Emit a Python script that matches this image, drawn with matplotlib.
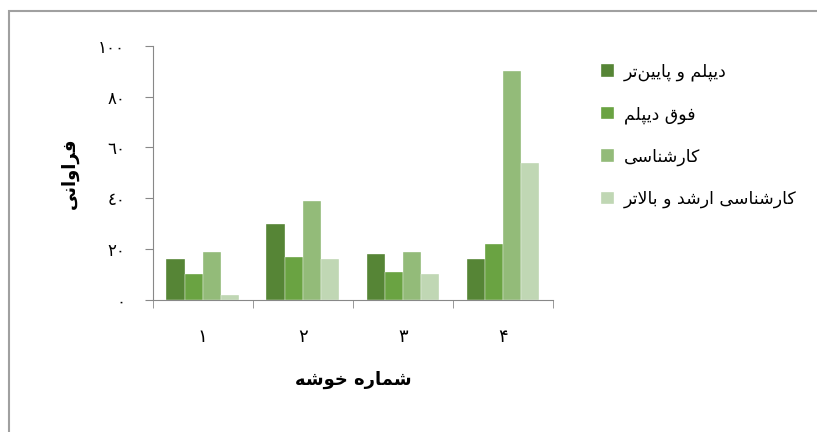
import numpy as np
import matplotlib
matplotlib.use("Agg")
import matplotlib.pyplot as plt
from matplotlib.patches import Rectangle

# data
clusters = ["۱", "۲", "۳", "۴"]
series_names = ["دیپلم و پایین‌تر", "فوق دیپلم", "کارشناسی", "کارشناسی ارشد و بالاتر"]
diploma_below = [16, 30, 18, 16]
associate = [10, 17, 11, 22]
bachelor = [19, 39, 19, 90]
master_above = [2, 16, 10, 54]
y_ticks = [0, 20, 40, 60, 80, 100]
y_tick_labels = ["٠", "٢٠", "٤٠", "٦٠", "٨٠", "١٠٠"]
x_title = "شماره خوشه"
y_title = "فراوانی"

colors = ["#568536", "#6aa342", "#93bb79", "#c0d7b4"]

# matplotlib has no arabic shaping, so map letters to presentation forms by hand
# letter: (isolated, final, initial, medial); two forms = does not join forward
FORMS = {
    "ا": "\ufe8d\ufe8e", "د": "\ufea9\ufeaa", "ر": "\ufead\ufeae", "و": "\ufeed\ufeee",
    "ب": "\ufe8f\ufe90\ufe91\ufe92", "پ": "\ufb56\ufb57\ufb58\ufb59",
    "ت": "\ufe95\ufe96\ufe97\ufe98", "خ": "\ufea5\ufea6\ufea7\ufea8",
    "س": "\ufeb1\ufeb2\ufeb3\ufeb4", "ش": "\ufeb5\ufeb6\ufeb7\ufeb8",
    "ف": "\ufed1\ufed2\ufed3\ufed4", "ق": "\ufed5\ufed6\ufed7\ufed8",
    "ک": "\ufb8e\ufb8f\ufb90\ufb91", "ل": "\ufedd\ufede\ufedf\ufee0",
    "م": "\ufee1\ufee2\ufee3\ufee4", "ن": "\ufee5\ufee6\ufee7\ufee8",
    "ه": "\ufee9\ufeea\ufeeb\ufeec", "ی": "\ufbfc\ufbfd\ufbfe\ufbff",
}


def shape(text):
    out = []
    i = 0
    prev_joins = False
    while i < len(text):
        ch = text[i]
        if ch not in FORMS:
            if ch != "\u200c":
                out.append(ch)
            prev_joins = False
            i += 1
            continue
        nxt = text[i + 1] if i + 1 < len(text) else ""
        if ch == "ل" and nxt == "ا":
            out.append("\ufefc" if prev_joins else "\ufefb")
            prev_joins = False
            i += 2
            continue
        f = FORMS[ch]
        joins_next = len(f) == 4 and nxt in FORMS
        if prev_joins and joins_next:
            out.append(f[3])
        elif prev_joins:
            out.append(f[1])
        elif joins_next:
            out.append(f[2])
        else:
            out.append(f[0])
        prev_joins = joins_next
        i += 1
    return "".join(out)[::-1]


plt.rcParams["font.family"] = ["DejaVu Sans"]

fig = plt.figure(figsize=(8.17, 4.32), dpi=100)
ax = fig.add_axes([0.187, 0.306, 0.490, 0.588])

x = np.arange(len(clusters))
w = 0.182
data = [diploma_below, associate, bachelor, master_above]
for k, (vals, c, name) in enumerate(zip(data, colors, series_names)):
    ax.bar(x + (k - 1.5) * w, vals, width=w, color=c, edgecolor="white",
           linewidth=0.25, label=shape(name))

ax.set_xlim(-0.5, 3.5)
ax.set_ylim(0, 100)
ax.set_yticks(y_ticks)
ax.set_yticklabels(y_tick_labels, fontsize=12)
ax.set_xticks(x)
ax.set_xticklabels(clusters, fontsize=13)
ax.tick_params(axis="x", length=0, pad=20)
ax.set_xticks(np.arange(-0.5, 4, 1), minor=True)
ax.tick_params(axis="x", which="minor", length=6, color="#888888", direction="out")
ax.tick_params(axis="y", length=6, color="#888888", pad=14)

for s in ["top", "right"]:
    ax.spines[s].set_visible(False)
for s in ["left", "bottom"]:
    ax.spines[s].set_color("#888888")

ax.set_xlabel(shape(x_title), fontsize=13, fontweight="bold", labelpad=18)
ax.set_ylabel(shape(y_title), fontsize=13, fontweight="bold", labelpad=14)

leg = ax.legend(loc="upper left", bbox_to_anchor=(1.08, 0.995), frameon=False,
                fontsize=12.5, handlelength=0.75, handleheight=0.75, labelspacing=1.38,
                handletextpad=0.6)

fig.add_artist(Rectangle((0.011, -0.05), 1.05, 0.975 + 0.05, transform=fig.transFigure,
                         fill=False, edgecolor="#a0a0a0", linewidth=1.5))

fig.savefig("out.png", dpi=100)
